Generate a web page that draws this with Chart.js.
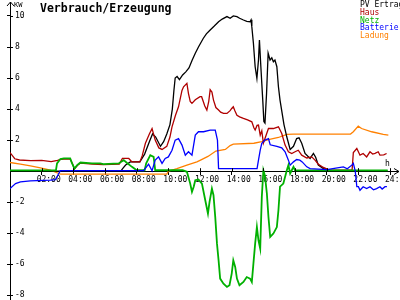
<!DOCTYPE html>
<html>
<head>
<meta charset="utf-8">
<script src="https://cdn.jsdelivr.net/npm/chart.js@4.4.1/dist/chart.umd.min.js"></script>
<style>
  html, body { margin: 0; padding: 0; background: #fff; }
  canvas { display: block; }
</style>
</head>
<body>
<canvas id="chart" width="400" height="300"></canvas>
<script>
const TITLE = 'Verbrauch/Erzeugung';
const Y_UNIT = 'KW';
const X_UNIT = 'h';
const SERIES_NAMES = ['PV Ertrag', 'Haus', 'Netz', 'Batterie', 'Ladung'];

// hours of day / kW
const pvHours = [0, 7.0, 7.1, 7.3, 7.6, 8.2, 8.5, 8.8, 9.0, 9.2, 9.5, 9.7, 9.9, 10.1, 10.25, 10.35, 10.43, 10.55, 10.7, 10.9,
  11.1, 11.3, 11.5, 11.7, 11.9, 12.2, 12.4, 12.64, 12.9, 13.17, 13.4, 13.7, 13.9, 14.1, 14.33, 14.5, 14.74, 14.95, 15.16, 15.22,
  15.27, 15.37, 15.48, 15.59, 15.69, 15.75, 15.84, 15.96, 16.03, 16.1, 16.2, 16.3, 16.42, 16.53, 16.63, 16.73, 16.85, 16.95, 17.05, 17.3,
  17.48, 17.69, 17.9, 18.1, 18.25, 18.42, 18.63, 18.95, 19.16, 19.3, 19.47, 19.79, 20.2, 20.5, 23.85];
const pvValues = [0, 0, 0.15, 0.4, 0.6, 0.6, 1.1, 1.9, 2.4, 2.2, 1.6, 1.9, 2.4, 3.0, 4.0, 5.2, 6.0, 6.1, 5.9, 6.2,
  6.4, 6.65, 7.15, 7.6, 8.0, 8.55, 8.85, 9.1, 9.35, 9.63, 9.8, 9.96, 9.85, 10.0, 9.96, 9.85, 9.74, 9.65, 9.63, 9.75,
  9.3, 8.24, 6.73, 5.98, 7.16, 8.45, 6.73, 4.58, 3.2, 3.1, 5.0, 7.6, 7.16, 7.3, 7.05, 7.16, 6.73, 5.44, 4.58, 3.0,
  2.2, 1.4, 1.6, 2.1, 2.15, 1.8, 1.14, 0.82, 1.14, 0.9, 0.39, 0.17, 0.06, 0, 0];

const hausHours = [0, 0.3, 0.6, 1.3, 2.0, 2.6, 3.0, 3.2, 3.4, 3.8, 3.95, 4.07, 4.25, 4.45, 5.2, 5.9, 6.9, 7.1, 7.5, 7.7,
  8.2, 8.35, 8.55, 8.8, 8.97, 9.17, 9.4, 9.6, 9.9, 10.1, 10.23, 10.45, 10.64, 10.86, 10.96, 11.17, 11.27, 11.38, 11.49, 11.7,
  12.0, 12.1, 12.3, 12.43, 12.55, 12.64, 12.75, 12.85, 13.0, 13.17, 13.3, 13.48, 13.7, 13.9, 14.0, 14.1, 14.2, 14.33, 14.5, 14.74,
  15.0, 15.27, 15.4, 15.48, 15.6, 15.69, 15.8, 15.9, 16.0, 16.1, 16.32, 16.63, 16.95, 17.16, 17.37, 17.58, 17.79, 18.0, 18.2, 18.42,
  18.74, 19.05, 19.26, 19.47, 19.79, 20.2, 21.6, 21.68, 21.9, 22.1, 22.3, 22.52, 22.73, 22.9, 23.05, 23.25, 23.36, 23.6, 23.78];
const hausValues = [1.2, 0.8, 0.72, 0.68, 0.7, 0.62, 0.7, 0.76, 0.78, 0.78, 0.46, 0.14, 0.36, 0.52, 0.46, 0.42, 0.46, 0.82, 0.82, 0.6,
  0.6, 1.0, 1.8, 2.4, 2.75, 2.0, 1.5, 1.4, 1.6, 2.2, 2.86, 3.6, 4.15, 5.2, 5.44, 5.66, 5.0, 4.5, 4.37, 4.6,
  4.8, 4.8, 4.2, 3.94, 4.5, 5.25, 5.1, 4.58, 4.1, 3.94, 3.8, 3.72, 3.72, 3.9, 4.04, 4.15, 3.9, 3.6, 3.5, 3.4,
  3.3, 3.18, 2.8, 2.65, 2.95, 2.97, 2.32, 2.6, 1.8, 2.1, 2.75, 2.75, 2.86, 2.43, 1.68, 1.25, 1.14, 1.25, 1.35, 1.03,
  0.85, 0.92, 0.71, 0.45, 0.24, 0.06, 0.06, 1.2, 1.46, 1.03, 1.14, 0.92, 1.25, 1.1, 1.15, 1.25, 1.03, 1.05, 1.14];

const netzHours = [0, 2.9, 2.97, 3.18, 3.4, 3.8, 3.92, 4.07, 4.24, 4.45, 5.18, 5.7, 5.9, 6.86, 7.18, 7.39, 7.7, 8.0, 8.5, 8.6,
  8.86, 9.07, 9.17, 10.9, 11.17, 11.38, 11.49, 11.6, 11.7, 11.9, 12.12, 12.33, 12.5, 12.6, 12.75, 12.85, 12.96, 13.07, 13.17, 13.27,
  13.48, 13.7, 13.86, 14.0, 14.1, 14.22, 14.33, 14.49, 14.74, 14.95, 15.16, 15.27, 15.37, 15.48, 15.59, 15.69, 15.8, 15.9, 16.0, 16.1,
  16.22, 16.32, 16.43, 16.63, 16.85, 16.95, 17.05, 17.26, 17.48, 17.58, 17.69, 17.9, 18.0, 23.85];
const netzValues = [0.05, 0.05, 0.5, 0.78, 0.82, 0.82, 0.5, 0.17, 0.39, 0.56, 0.5, 0.5, 0.45, 0.5, 0.71, 0.53, 0.28, 0.06, 0.06, 0.5,
  1.03, 0.92, 0.06, 0.06, -0.04, -0.8, -1.33, -1.0, -0.58, -0.54, -0.8, -1.87, -2.73, -1.98, -1.12, -1.55, -2.95, -4.67, -5.74, -6.92,
  -7.25, -7.46, -7.35, -6.6, -5.74, -6.17, -6.92, -7.35, -7.14, -6.82, -6.92, -7.14, -5.96, -4.67, -3.6, -4.45, -4.99, -1.66, 0.06, -0.3,
  -1.44, -2.95, -4.24, -4.02, -3.6, -2.52, -1.0, -0.8, 0.06, 0.39, -0.15, 0.28, 0.06, 0.05];

const battHours = [0, 0.35, 0.66, 1.29, 2.55, 2.87, 3.08, 3.18, 8.44, 8.75, 8.97, 9.17, 9.38, 9.6, 9.8, 10.0, 10.23, 10.43, 10.64, 10.86,
  11.07, 11.27, 11.49, 11.7, 11.9, 12.22, 12.64, 12.96, 13.1, 13.17, 15.6, 15.69, 15.8, 15.9, 16.1, 16.32, 16.43, 16.85, 17.16, 17.37,
  17.58, 17.69, 17.9, 18.1, 18.3, 18.45, 18.74, 18.95, 20.0, 21.05, 21.3, 21.58, 21.68, 21.8, 21.9, 22.0, 22.1, 22.3, 22.52, 22.73,
  22.95, 23.15, 23.36, 23.5, 23.68, 23.8];
const battValues = [-1.12, -0.8, -0.69, -0.62, -0.58, -0.55, -0.15, 0.03, 0.03, 0.45, 0.03, 0.71, 0.92, 0.5, 0.82, 0.92, 1.35, 2.0, 2.1, 1.68,
  1.03, 1.25, 1.03, 2.32, 2.54, 2.54, 2.65, 2.65, 2.0, 0.17, 0.17, 0.71, 1.35, 1.8, 2.0, 2.1, 1.7, 1.6, 1.5, 1.25,
  0.71, 0.39, 0.6, 0.75, 0.71, 0.6, 0.28, 0.17, 0.1, 0.28, 0.15, 0.39, 0.5, 0.0, -1.0, -1.0, -1.23, -1.0, -1.12, -1.0,
  -1.2, -1.12, -1.0, -1.15, -1.0, -1.0];

const ladHours = [0, 0.66, 1.29, 1.92, 2.55, 3.08, 3.2, 9.9, 10.0, 10.54, 11.17, 11.8, 12.0, 12.5, 13.0, 13.6, 13.9, 14.1, 15.4, 15.9,
  16.32, 16.95, 17.48, 17.9, 21.5, 21.68, 21.99, 22.2, 22.84, 23.57, 23.89];
const ladValues = [0.56, 0.45, 0.34, 0.21, 0.06, -0.15, -0.19, -0.19, 0.0, 0.17, 0.39, 0.6, 0.7, 0.95, 1.3, 1.4, 1.65, 1.74, 1.8, 1.9,
  2.04, 2.17, 2.37, 2.39, 2.39, 2.54, 2.9, 2.75, 2.54, 2.37, 2.32];

const COLORS = ['#000000', '#b00000', '#00b000', '#0000ff', '#ff8000'];
const MONO = '"DejaVu Sans Mono", "Liberation Mono", monospace';

const pts = (hs, vs) => hs.map((h, i) => ({ x: h, y: vs[i] }));

function line(idx, data, width) {
  return {
    label: SERIES_NAMES[idx],
    data,
    borderColor: COLORS[idx],
    borderWidth: width,
    pointRadius: 0,
    tension: 0,
    fill: false,
  };
}

// title, legend, arrows and the inner halves of the tick marks
const decor = {
  id: 'decor',
  beforeDraw(chart) {
    const ctx = chart.ctx;
    ctx.save();
    ctx.fillStyle = '#fff';
    ctx.fillRect(0, 0, chart.width, chart.height);
    ctx.restore();
  },
  afterDraw(chart) {
    const ctx = chart.ctx;
    const xs = chart.scales.x;
    const ys = chart.scales.y;
    const ay = ys.getPixelForValue(0);
    const left = chart.chartArea.left;
    ctx.save();
    ctx.strokeStyle = '#000';
    ctx.lineWidth = 1;
    ctx.beginPath();
    xs.ticks.forEach(t => {
      if (t.value === 0) return;
      const px = Math.round(xs.getPixelForValue(t.value)) + 0.5;
      ctx.moveTo(px, ay - 3);
      ctx.lineTo(px, ay);
    });
    ys.ticks.forEach(t => {
      if (t.value === 0) return;
      const py = Math.round(ys.getPixelForValue(t.value)) + 0.5;
      ctx.moveTo(left, py);
      ctx.lineTo(left + 3, py);
    });
    // y arrow
    ctx.moveTo(left - 3, 6);
    ctx.lineTo(left + 0.5, 2);
    ctx.lineTo(left + 4, 6);
    // x arrow
    const ry = Math.round(ay) + 0.5;
    ctx.moveTo(394, ry - 3);
    ctx.lineTo(399, ry);
    ctx.lineTo(394, ry + 3);
    ctx.stroke();

    ctx.fillStyle = '#000';
    ctx.textBaseline = 'alphabetic';
    ctx.font = 'bold 11.5px ' + MONO;
    ctx.fillText(TITLE, 40, 11.5);
    ctx.font = '7px ' + MONO;
    ctx.fillText(Y_UNIT, 14, 7);
    ctx.font = '8px ' + MONO;
    ctx.fillText(X_UNIT, 385, 166);

    SERIES_NAMES.forEach((name, i) => {
      ctx.fillStyle = COLORS[i];
      ctx.fillText(name, 360, 7 + 7.8 * i);
    });
    ctx.restore();
  }
};

new Chart(document.getElementById('chart'), {
  type: 'line',
  data: {
    datasets: [
      line(3, pts(battHours, battValues), 1.3),
      line(2, pts(netzHours, netzValues), 1.8),
      line(1, pts(hausHours, hausValues), 1.3),
      line(0, pts(pvHours, pvValues), 1.3),
      line(4, pts(ladHours, ladValues), 1.3),
    ],
  },
  options: {
    responsive: false,
    animation: false,
    layout: { padding: { left: 7, top: 2, right: 2, bottom: 0 } },
    plugins: { legend: { display: false }, tooltip: { enabled: false } },
    scales: {
      x: {
        type: 'linear',
        min: 0,
        max: 24.5,
        position: { y: 0 },
        grid: { drawOnChartArea: false, tickLength: 3, color: '#000' },
        border: { color: '#000', width: 1 },
        ticks: {
          stepSize: 2,
          includeBounds: false,
          autoSkip: false,
          maxRotation: 0,
          labelOffset: 7,
          padding: 1,
          color: '#000',
          font: { family: MONO, size: 8 },
          callback: v => v === 0 ? null : String(v).padStart(2, '0') + ':00',
        },
        afterFit: s => { s.paddingLeft = 0; s.paddingRight = 0; },
      },
      y: {
        type: 'linear',
        min: -8.3,
        max: 10.9,
        position: 'left',
        grid: { drawOnChartArea: false, tickLength: 3, color: '#000' },
        border: { color: '#000', width: 1 },
        ticks: {
          stepSize: 2,
          includeBounds: false,
          mirror: true,
          padding: 5,
          color: '#000',
          font: { family: MONO, size: 8 },
          callback: v => v === 0 ? null : String(v),
        },
        afterFit: s => { s.width = 3; s.paddingTop = 0; s.paddingBottom = 0; },
      },
    },
  },
  plugins: [decor],
});
</script>
</body>
</html>
